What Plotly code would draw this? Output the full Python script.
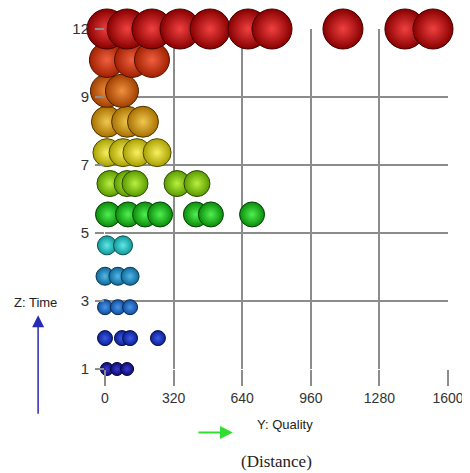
import plotly.graph_objects as go

# ---- data ----
time = (
    [1, 1, 1]
    + [2, 2, 2, 2]
    + [3, 3, 3]
    + [4, 4, 4]
    + [5, 5]
    + [6, 6, 6, 6, 6, 6, 6]
    + [7, 7, 7, 7, 7]
    + [8, 8, 8, 8]
    + [9, 9, 9]
    + [10, 10]
    + [11, 11, 11]
    + [12, 12, 12, 12, 12, 12, 12, 12, 12, 12]
)
quality = (
    [9, 56, 103]
    + [0, 79, 117, 247]
    + [0, 60, 117]
    + [0, 60, 117]
    + [9, 84]
    + [14, 107, 187, 257, 424, 494, 686]
    + [23, 103, 140, 336, 429]
    + [9, 84, 149, 243]
    + [9, 103, 177]
    + [9, 79]
    + [9, 126, 219]
    + [9, 103, 219, 350, 490, 667, 779, 1110, 1399, 1530]
)
x_ticks = [0, 320, 640, 960, 1280, 1600]
y_tickvals = [1, 3.2, 5.4, 7.6, 9.8, 12]
y_ticktext = ["1", "3", "5", "7", "9", "12"]

# ---- styles (per time row) ----
row_size = {1: 13, 2: 15, 3: 15, 4: 18, 5: 19, 6: 25, 7: 26, 8: 28,
            9: 31, 10: 33, 11: 35, 12: 40}
row_light = {1: "#3a3ad0", 2: "#3a5ae8", 3: "#4a94e8", 4: "#50b8e8",
             5: "#60e8e8", 6: "#50f050", 7: "#b8f040", 8: "#f8f060",
             9: "#f0c850", 10: "#f09040", 11: "#f06040", 12: "#f04040"}
row_dark = {1: "#0c0c70", 2: "#0c2090", 3: "#1050a0", 4: "#106898",
            5: "#109898", 6: "#0a8a0a", 7: "#5a9a00", 8: "#a8a000",
            9: "#a87000", 10: "#a04000", 11: "#a02000", 12: "#880000"}
row_line = {1: "#05053a", 2: "#061050", 3: "#082858", 4: "#083850",
            5: "#085050", 6: "#054005", 7: "#304800", 8: "#504800",
            9: "#503400", 10: "#502000", 11: "#501000", 12: "#400000"}

fig = go.Figure()
for t in sorted(set(time)):
    xs = [q for q, tt in zip(quality, time) if tt == t]
    ys = [tt for tt in time if tt == t]
    fig.add_trace(go.Scatter(
        x=xs, y=ys, mode="markers", cliponaxis=False, showlegend=False,
        marker=dict(size=row_size[t], color=row_dark[t],
                    gradient=dict(type="radial", color=row_light[t]),
                    line=dict(color=row_line[t], width=1)),
    ))

grid = "#8c8c8c"
fig.update_xaxes(range=[0, 1600], tickvals=x_ticks, showgrid=True,
                 gridcolor=grid, gridwidth=1.5, zeroline=False, showline=False,
                 ticks="outside", ticklen=16, tickwidth=1.5, tickcolor=grid,
                 tickfont=dict(family="Liberation Sans", size=14, color="#333333"))
fig.update_yaxes(range=[1, 12], tickvals=y_tickvals, ticktext=y_ticktext,
                 showgrid=True, gridcolor=grid, gridwidth=1.5, zeroline=False,
                 showline=False, ticks="outside", ticklen=9, tickwidth=1.5,
                 tickcolor=grid, ticklabelstandoff=3,
                 tickfont=dict(family="Liberation Sans", size=15, color="#333333"))

annotations = [
    dict(x=-0.195, y=0.158, xref="paper", yref="paper", ax=0, ay=100,
         axref="pixel", ayref="pixel", showarrow=True, arrowhead=2,
         arrowsize=1.6, arrowwidth=1.5, arrowcolor="#2a2ab8", text=""),
    dict(x=0.373, y=-0.187, xref="paper", yref="paper", ax=-36, ay=0,
         axref="pixel", ayref="pixel", showarrow=True, arrowhead=2,
         arrowsize=1.3, arrowwidth=2, arrowcolor="#30dd30", text=""),
    dict(x=-0.204, y=0.196, xref="paper", yref="paper", showarrow=False,
         xanchor="center", yanchor="middle",
         text="Z: Time", font=dict(family="Liberation Sans", size=13, color="#222222")),
    dict(x=0.525, y=-0.164, xref="paper", yref="paper", showarrow=False,
         xanchor="center", yanchor="middle",
         text="Y: Quality", font=dict(family="Liberation Sans", size=13, color="#222222")),
    dict(x=0.501, y=-0.272, xref="paper", yref="paper", showarrow=False,
         xanchor="center", yanchor="middle",
         text="(Distance)", font=dict(family="Liberation Serif", size=17, color="#222222")),
]

fig.update_layout(width=470, height=473,
                  margin=dict(l=97, r=30, t=19, b=112),
                  paper_bgcolor="white", plot_bgcolor="white",
                  annotations=annotations)

fig.write_html("out.html")
